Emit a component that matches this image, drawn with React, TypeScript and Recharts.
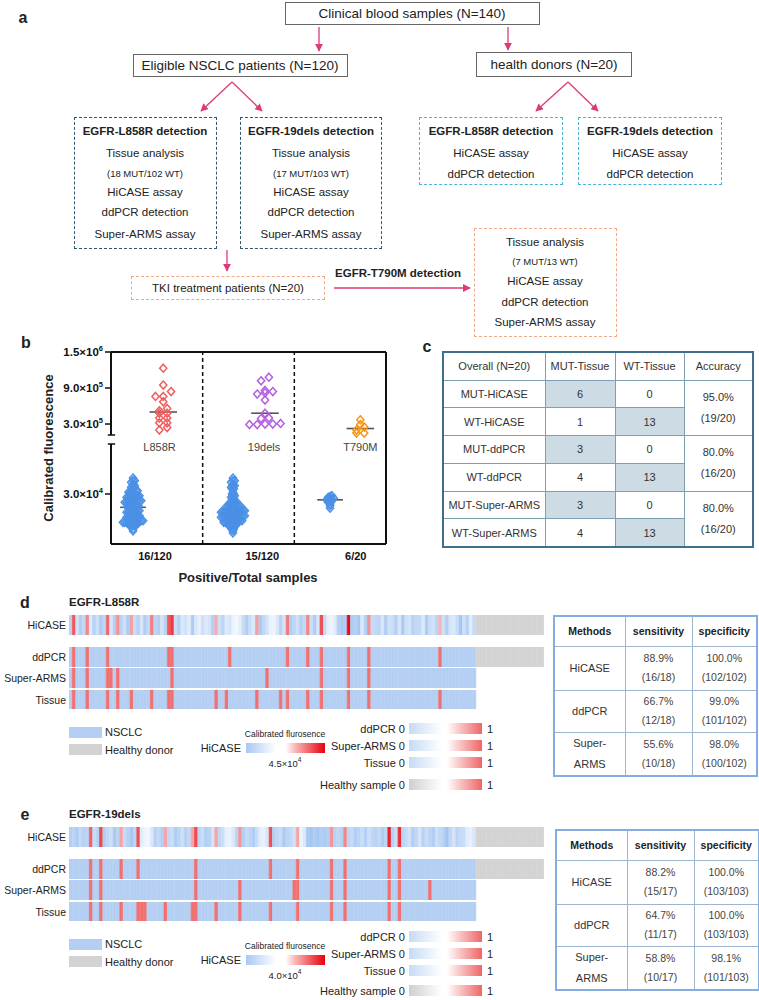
import React from 'react';
import {
  ScatterChart, Scatter, XAxis, YAxis, ReferenceLine, ReferenceDot,
  BarChart, Bar, Cell,
} from 'recharts';

const FONT = '"Liberation Sans", Arial, Helvetica, sans-serif';

// HiCASE calibrated fluorescence per NSCLC sample (x10^3), heatmap order
const HICASE_L858R = [
  18, 760, 26, 13, 20, 480, 31, 15, 24, 12,
  19, 670, 28, 14, 400, 17, 25, 12, 320, 22,
  16, 29, 13, 21, 520, 18, 14, 27, 17, 760,
  950, 23, 15, 30, 26, 33, 12, 29, 35, 24,
  31, 27, 14, 240, 25, 18, 32, 28, 37, 39.6,
  34, 22, 13, 24, 30, 320, 11, 19, 26, 36,
  38, 30, 16, 27, 560, 13, 19, 25, 14, 20,
  480, 24, 12, 29, 840, 21, 35, 38, 32, 16,
  10, 13, 1230, 12, 15, 9, 31, 14, 400, 22,
  19, 18, 28, 13, 26, 23, 15, 29, 11, 25,
  27, 16, 19, 20, 31, 12, 23, 26, 17, 200,
  24, 14, 28, 30, 22, 7.8, 25, 16, 33, 21,
];
const HICASE_19DELS = [
  14, 17, 12, 20, 15, 18, 700, 22, 16, 860,
  13, 19, 24, 11, 17, 310, 21, 15, 9, 18,
  800, 33, 38, 39.6, 30, 16, 20, 14, 300, 19,
  23, 12, 17, 25, 15, 20, 300, 840, 18, 22,
  13, 16, 27, 290, 19, 24, 35, 37, 31, 17,
  390, 14, 21, 18, 12, 23, 34, 36, 29, 820,
  15, 19, 22, 11, 17, 20, 26, 290, 38, 30,
  10, 8, 12, 9, 13, 11, 14, 400, 16, 19,
  15, 480, 18, 21, 13, 17, 22, 14, 25, 19,
  16, 20, 12, 18, 1080, 15, 23, 1020, 17, 21,
  26, 14, 19, 28, 16, 22, 18, 13, 24, 20,
  15, 6.6, 19, 27, 17, 21, 23, 33, 35, 29,
];
const HICASE_T790M_WT = [29, 28.5, 28, 27.5, 27, 27, 26.5, 26.5, 26, 25.5, 25, 24, 23, 21.5];
const HICASE_T790M_MUT = [370, 290, 250, 200, 150, 150];

const GROUPS = ['L858R', '19dels', 'T790M'];
const POS_TOTAL = ['16/120', '15/120', '6/20'];

// positive sample indices (binary rows)
const DDPCR_L858R = [1, 5, 11, 29, 30, 47, 64, 70, 74, 82, 88, 109];
const SARMS_L858R = [1, 5, 11, 12, 14, 30, 58, 74, 82, 88];
const TISSUE_L858R = [1, 5, 11, 14, 18, 24, 29, 30, 43, 46, 55, 62, 64, 70, 74, 82, 88, 109];
const DDPCR_19DELS = [6, 9, 15, 20, 37, 59, 67, 77, 81, 94, 97];
const SARMS_19DELS = [6, 9, 37, 50, 66, 67, 77, 81, 94, 97, 106];
const TISSUE_19DELS = [6, 9, 15, 20, 21, 22, 28, 36, 37, 43, 50, 59, 67, 77, 81, 94, 97];
const N_NSCLC = 120;
const N_HEALTHY = 20;

// panel c
const C_METHODS = ['HiCASE', 'ddPCR', 'Super-ARMS'];
const C_MUT_TISSUE = [[6, 1], [3, 4], [3, 4]];
const C_WT_TISSUE = [[0, 13], [0, 13], [0, 13]];
const C_ACCURACY = ['95.0%', '80.0%', '80.0%'];
const C_ACC_FRAC = ['(19/20)', '(16/20)', '(16/20)'];

// panels d / e tables
const METHODS = ['HiCASE', 'ddPCR', 'Super-ARMS'];
const SENS_L858R = [['88.9%', '(16/18)'], ['66.7%', '(12/18)'], ['55.6%', '(10/18)']];
const SPEC_L858R = [['100.0%', '(102/102)'], ['99.0%', '(101/102)'], ['98.0%', '(100/102)']];
const SENS_19DELS = [['88.2%', '(15/17)'], ['64.7%', '(11/17)'], ['58.8%', '(10/17)']];
const SPEC_19DELS = [['100.0%', '(103/103)'], ['100.0%', '(103/103)'], ['98.1%', '(101/103)']];

// ---------- broken y scale for panel b ----------
const LOW_MAX = 60, LOW_H = 100, GAP = 9, UP_MIN = 117, UP_MAX = 1500, UP_H = 83;
const ty = (v: number) =>
  v <= LOW_MAX ? (v / LOW_MAX) * LOW_H : LOW_H + GAP + ((v - UP_MIN) / (UP_MAX - UP_MIN)) * UP_H;
const Y_TOP = ty(UP_MAX);
const Y_TICKS = [30, 60, 300, 900, 1500];
const Y_TICK_TEXT = [['3.0', '4'], ['6.0', '4'], ['3.0', '5'], ['9.0', '5'], ['1.5', '6']];
const THRESHOLD = 60;

const NEG_X = [0.24, 1.33, 2.39];
const POS_X = [0.57, 1.68, 2.72];
const TICK_X = [0.48, 1.65, 2.67];
const NAME_X = [0.53, 1.67, 2.72];

const BLUE_PT = '#4a90e6';
const POS_COLORS = ['#ef5e5e', '#b45fe0', '#f5961c'];

function swarm(values: number[], cx: number, step: number, bin: number) {
  const bins = new Map<number, number[]>();
  [...values].sort((a, b) => a - b).forEach((v) => {
    const k = Math.round(ty(v) / bin);
    if (!bins.has(k)) bins.set(k, []);
    bins.get(k)!.push(v);
  });
  const pts: { x: number; y: number }[] = [];
  bins.forEach((vs) =>
    vs.forEach((v, i) => pts.push({ x: cx + (i - (vs.length - 1) / 2) * step, y: ty(v) }))
  );
  return pts;
}

const median = (vs: number[]) => {
  const s = [...vs].sort((a, b) => a - b);
  const m = Math.floor(s.length / 2);
  return s.length % 2 ? s[m] : (s[m - 1] + s[m]) / 2;
};

const diamond = (color: string) => (p: any) => (
  <path
    d={`M${p.cx},${p.cy - 4}L${p.cx + 3.6},${p.cy}L${p.cx},${p.cy + 4}L${p.cx - 3.6},${p.cy}Z`}
    fill="none"
    stroke={color}
    strokeWidth={1.5}
  />
);

const YTick = (p: any) => {
  const i = Y_TICKS.findIndex((v) => Math.abs(ty(v) - p.payload.value) < 1e-6);
  const [m, e] = Y_TICK_TEXT[i] ?? ['', ''];
  return (
    <text x={p.x} y={p.y} dy={4} textAnchor="end" fontFamily={FONT} fontSize={11.5} fontWeight={700} fill="#111">
      {m}×10<tspan dy={-5} fontSize={7.5}>{e}</tspan>
    </text>
  );
};

// ---------- heatmap colours ----------
const mix = (a: number[], b: number[], t: number) =>
  `rgb(${a.map((c, i) => Math.round(c + (b[i] - c) * t)).join(',')})`;
const heatColor = (v: number) => {
  if (v < 45) return mix([160, 195, 240], [255, 255, 255], Math.min(1, Math.max(0, (v - 6) / 39)));
  return mix([250, 205, 205], [230, 10, 20], Math.min(1, (v - 45) / 1200));
};
const NSCLC_BLUE = '#b4cff3';
const HIT_RED = '#f07171';
const HEALTHY_GRAY = '#d3d3d3';

const hicaseColors = (vals: number[]) => [
  ...vals.map(heatColor),
  ...Array.from({ length: N_HEALTHY }, () => HEALTHY_GRAY),
];
const binaryColors = (pos: number[], healthy: boolean) =>
  Array.from({ length: N_NSCLC + N_HEALTHY }, (_, i) =>
    i >= N_NSCLC ? (healthy ? HEALTHY_GRAY : 'transparent') : pos.includes(i) ? HIT_RED : NSCLC_BLUE
  );

// ---------- small helpers ----------
const Txt = ({ x, y, s = 11.5, b = false, a = 'middle', c = '#222', children, style }: any) => {
  const tx = a === 'middle' ? '-50%' : a === 'end' ? '-100%' : '0';
  return (
    <div
      style={{
        position: 'absolute', left: x, top: y, transform: `translate(${tx},-50%)`,
        fontSize: s, fontWeight: b ? 700 : 400, color: c, whiteSpace: 'nowrap', lineHeight: 1.15, ...style,
      }}
    >
      {children}
    </div>
  );
};

const FBox = ({ l, t, w, h, color, dashed }: any) => (
  <div
    style={{
      position: 'absolute', left: l, top: t, width: w, height: h, boxSizing: 'border-box',
      border: `1.5px ${dashed ? 'dashed' : 'solid'} ${color}`,
    }}
  />
);

const ARROW = '#dc3a78';
const DARK_DASH = '#2d5b6d';
const LIGHT_DASH = '#4cb2d8';
const PEACH_DASH = '#f1a987';

const arrows = [
  [319, 27, 319, 51], [508, 27, 508, 50],
  [232, 82, 201, 111], [232, 82, 262, 111], [568, 82, 536, 111], [568, 82, 598, 111],
  [227, 250, 227, 271], [334, 288, 470, 288],
];

function PanelA() {
  return (
    <>
      <Txt x={23} y={18} s={16} b>a</Txt>
      <FBox l={285} t={2} w={255} h={23} color="#666" />
      <Txt x={412} y={13.5} s={13.5}>Clinical blood samples (N=140)</Txt>
      <FBox l={133} t={54} w={215} h={23} color="#666" />
      <Txt x={240} y={66} s={13.5}>Eligible NSCLC patients (N=120)</Txt>
      <FBox l={476} t={52} w={156} h={25} color="#666" />
      <Txt x={554} y={65} s={13.5}>health donors (N=20)</Txt>

      <FBox l={74} t={117} w={143} h={132} color={DARK_DASH} dashed />
      <Txt x={145} y={132} b>EGFR-L858R detection</Txt>
      <Txt x={145} y={154}>Tissue analysis</Txt>
      <Txt x={145} y={174} s={9.5}>(18 MUT/102 WT)</Txt>
      <Txt x={145} y={193}>HiCASE assay</Txt>
      <Txt x={145} y={213}>ddPCR detection</Txt>
      <Txt x={145} y={235}>Super-ARMS assay</Txt>

      <FBox l={240} t={117} w={142} h={132} color={DARK_DASH} dashed />
      <Txt x={311} y={132} b>EGFR-19dels detection</Txt>
      <Txt x={311} y={154}>Tissue analysis</Txt>
      <Txt x={311} y={174} s={9.5}>(17 MUT/103 WT)</Txt>
      <Txt x={311} y={193}>HiCASE assay</Txt>
      <Txt x={311} y={213}>ddPCR detection</Txt>
      <Txt x={311} y={235}>Super-ARMS assay</Txt>

      <FBox l={419} t={117} w={144} h={68} color={LIGHT_DASH} dashed />
      <Txt x={491} y={132} b>EGFR-L858R detection</Txt>
      <Txt x={491} y={154}>HiCASE assay</Txt>
      <Txt x={491} y={175}>ddPCR detection</Txt>

      <FBox l={578} t={117} w={144} h={68} color={LIGHT_DASH} dashed />
      <Txt x={650} y={132} b>EGFR-19dels detection</Txt>
      <Txt x={650} y={154}>HiCASE assay</Txt>
      <Txt x={650} y={175}>ddPCR detection</Txt>

      <FBox l={131} t={276} w={194} h={24} color={PEACH_DASH} dashed />
      <Txt x={228} y={289}>TKI treatment patients (N=20)</Txt>
      <Txt x={398} y={274} b>EGFR-T790M detection</Txt>

      <FBox l={474} t={228} w={143} h={109} color={PEACH_DASH} dashed />
      <Txt x={545} y={243}>Tissue analysis</Txt>
      <Txt x={545} y={262} s={9.5}>(7 MUT/13 WT)</Txt>
      <Txt x={545} y={282}>HiCASE assay</Txt>
      <Txt x={545} y={303}>ddPCR detection</Txt>
      <Txt x={545} y={323}>Super-ARMS assay</Txt>

      <svg width={759} height={340} style={{ position: 'absolute', left: 0, top: 0 }}>
        <defs>
          <marker id="ah" viewBox="0 0 10 10" refX="9" refY="5" markerWidth="6" markerHeight="6" orient="auto">
            <path d="M0,0 L10,5 L0,10 z" fill={ARROW} />
          </marker>
        </defs>
        {arrows.map(([x1, y1, x2, y2], i) => (
          <line key={i} x1={x1} y1={y1} x2={x2} y2={y2} stroke={ARROW} strokeWidth={1.3} markerEnd="url(#ah)" />
        ))}
      </svg>
    </>
  );
}

function PanelB() {
  const sets = [
    { neg: HICASE_L858R.filter((v) => v < THRESHOLD), pos: HICASE_L858R.filter((v) => v >= THRESHOLD) },
    { neg: HICASE_19DELS.filter((v) => v < THRESHOLD), pos: HICASE_19DELS.filter((v) => v >= THRESHOLD) },
    { neg: HICASE_T790M_WT, pos: HICASE_T790M_MUT },
  ];
  const axis = { stroke: '#111', strokeWidth: 2 };
  return (
    <>
      <Txt x={26} y={343} s={16} b>b</Txt>
      <div style={{ position: 'absolute', left: 0, top: 330 }}>
        <ScatterChart width={400} height={270} margin={{ top: 22, right: 14, bottom: 26, left: 51 }}>
          <XAxis
            type="number" dataKey="x" domain={[0, 3]} ticks={TICK_X} height={30}
            axisLine={false} tickLine={false}
            tickFormatter={(v: number) => POS_TOTAL[TICK_X.indexOf(v)] ?? ''}
            tick={{ fontSize: 11, fontWeight: 700, fill: '#111', fontFamily: FONT }}
          />
          <YAxis
            type="number" dataKey="y" domain={[0, Y_TOP]} ticks={Y_TICKS.map(ty)} width={60}
            axisLine={false} tickLine={{ stroke: '#111', strokeWidth: 1.5 }} tick={YTick}
          />
          <ReferenceLine y={Y_TOP} {...axis} />
          <ReferenceLine y={0} {...axis} />
          <ReferenceLine x={3} {...axis} />
          <ReferenceLine segment={[{ x: 0, y: 0 }, { x: 0, y: LOW_H }]} {...axis} ifOverflow="visible" />
          <ReferenceLine segment={[{ x: 0, y: LOW_H + GAP }, { x: 0, y: Y_TOP }]} {...axis} ifOverflow="visible" />
          <ReferenceLine segment={[{ x: -0.035, y: LOW_H }, { x: 0.045, y: LOW_H }]} stroke="#111" strokeWidth={1.5} ifOverflow="visible" />
          <ReferenceLine segment={[{ x: -0.035, y: LOW_H + GAP }, { x: 0.045, y: LOW_H + GAP }]} stroke="#111" strokeWidth={1.5} ifOverflow="visible" />
          <ReferenceLine x={1} stroke="#111" strokeWidth={1.5} strokeDasharray="4 3" />
          <ReferenceLine x={2} stroke="#111" strokeWidth={1.5} strokeDasharray="4 3" />
          {sets.map((s, g) => (
            <Scatter key={`n${g}`} data={swarm(s.neg, NEG_X[g], 0.02, 2.5)} shape={diamond(BLUE_PT)} isAnimationActive={false} />
          ))}
          {sets.map((s, g) => (
            <Scatter key={`p${g}`} data={swarm(s.pos, POS_X[g], 0.085, 5)} shape={diamond(POS_COLORS[g])} isAnimationActive={false} />
          ))}
          {sets.map((s, g) => (
            <ReferenceLine key={`mn${g}`} segment={[{ x: NEG_X[g] - 0.14, y: ty(median(s.neg)) }, { x: NEG_X[g] + 0.14, y: ty(median(s.neg)) }]} stroke="#555" strokeWidth={1.6} />
          ))}
          {sets.map((s, g) => (
            <ReferenceLine key={`mp${g}`} segment={[{ x: POS_X[g] - 0.15, y: ty(median(s.pos)) }, { x: POS_X[g] + 0.15, y: ty(median(s.pos)) }]} stroke="#555" strokeWidth={1.6} />
          ))}
          {GROUPS.map((name, g) => (
            <ReferenceDot
              key={name} x={NAME_X[g]} y={LOW_H - 3} r={1} fill="none" stroke="none"
              label={{ value: name, position: 'center', fontSize: 11, fill: '#444', fontFamily: FONT }}
            />
          ))}
        </ScatterChart>
      </div>
      <Txt x={49} y={448} s={13} b style={{ transform: 'translate(-50%,-50%) rotate(-90deg)' }}>
        Calibrated fluorescence
      </Txt>
      <Txt x={248} y={578} s={13} b>Positive/Total samples</Txt>
    </>
  );
}

function PanelC() {
  const inner = '1px solid #7d9fb4';
  const cell = (extra: any = {}) => ({
    border: inner, textAlign: 'center' as const, padding: 0, fontSize: 11, color: '#333', ...extra,
  });
  const shade = '#cddbe4';
  return (
    <>
      <Txt x={427} y={347} s={16} b>c</Txt>
      <table
        style={{
          position: 'absolute', left: 442, top: 351, width: 310, height: 195, borderCollapse: 'collapse',
          border: '2px solid #3f6f8c', tableLayout: 'fixed', fontFamily: FONT,
        }}
      >
        <colgroup>
          <col style={{ width: 102 }} /><col style={{ width: 70 }} /><col style={{ width: 69 }} /><col style={{ width: 69 }} />
        </colgroup>
        <tbody>
          <tr style={{ height: 28 }}>
            <td style={cell()}>Overall (N=20)</td>
            <td style={cell()}>MUT-Tissue</td>
            <td style={cell()}>WT-Tissue</td>
            <td style={cell()}>Accuracy</td>
          </tr>
          {C_METHODS.map((m, i) =>
            [0, 1].map((r) => (
              <tr key={`${m}${r}`} style={{ height: 27.8 }}>
                <td style={cell()}>{(r === 0 ? 'MUT-' : 'WT-') + m}</td>
                <td style={cell({ background: r === 0 ? shade : 'white' })}>{C_MUT_TISSUE[i][r]}</td>
                <td style={cell({ background: r === 1 ? shade : 'white' })}>{C_WT_TISSUE[i][r]}</td>
                {r === 0 && (
                  <td rowSpan={2} style={cell({ lineHeight: '21px' })}>
                    {C_ACCURACY[i]}<br />{C_ACC_FRAC[i]}
                  </td>
                )}
              </tr>
            ))
          )}
        </tbody>
      </table>
    </>
  );
}

function HeatRow({ colors, top, height }: { colors: string[]; top: number; height: number }) {
  const data = colors.map((c, i) => ({ i, v: 1, c }));
  return (
    <div style={{ position: 'absolute', left: 69, top }}>
      <BarChart width={475} height={height} data={data} margin={{ top: 0, right: 0, bottom: 0, left: 0 }} barCategoryGap={0} barGap={0}>
        <XAxis dataKey="i" hide />
        <YAxis hide domain={[0, 1]} />
        <Bar dataKey="v" isAnimationActive={false}>
          {data.map((d) => (
            <Cell key={d.i} fill={d.c} stroke={d.c === 'transparent' ? 'none' : d.c} strokeWidth={0.8} />
          ))}
        </Bar>
      </BarChart>
    </div>
  );
}

function GradBar({ l, t, w, h, from }: any) {
  return (
    <div
      style={{
        position: 'absolute', left: l, top: t, width: w, height: h,
        background: `linear-gradient(to right, ${from} 0%, #ffffff 45%, #ffffff 52%, #f8c4c4 70%, #ef6666 100%)`,
      }}
    />
  );
}

function HeatPanel({ letter, title, top, hicase, ddpcr, sarms, tissue, mid, legY }: any) {
  const rows = [
    { name: 'HiCASE', colors: hicaseColors(hicase), t: top, h: 20 },
    { name: 'ddPCR', colors: binaryColors(ddpcr, true), t: top + 32, h: 20 },
    { name: 'Super-ARMS', colors: binaryColors(sarms, false), t: top + 53, h: 20 },
    { name: 'Tissue', colors: binaryColors(tissue, false), t: top + 75, h: 19 },
  ];
  const legNames = ['ddPCR', 'Super-ARMS', 'Tissue', 'Healthy sample'];
  return (
    <>
      <Txt x={25} y={top - 12} s={16} b>{letter}</Txt>
      <Txt x={69} y={top - 12} s={11.5} b a="start">{title}</Txt>
      {rows.map((r) => (
        <React.Fragment key={r.name}>
          <Txt x={66} y={r.t + r.h / 2} s={10.5} a="end">{r.name}</Txt>
          <HeatRow colors={r.colors} top={r.t} height={r.h} />
        </React.Fragment>
      ))}
      <div style={{ position: 'absolute', left: 69, top: top + 112, width: 33, height: 11, background: NSCLC_BLUE }} />
      <Txt x={105} y={top + 117} s={11} a="start">NSCLC</Txt>
      <div style={{ position: 'absolute', left: 69, top: top + 129, width: 33, height: 11, background: HEALTHY_GRAY }} />
      <Txt x={105} y={top + 135} s={11} a="start">Healthy donor</Txt>
      <Txt x={285} y={top + 120} s={8.5}>Calibrated flurosence</Txt>
      <Txt x={241} y={top + 133} s={11} a="end">HiCASE</Txt>
      <div
        style={{
          position: 'absolute', left: 246, top: top + 128, width: 79, height: 10,
          background: 'linear-gradient(to right, #a8c8f2 0%, #ffffff 38%, #ffffff 50%, #fbb8b8 62%, #e8000b 100%)',
        }}
      />
      <Txt x={285} y={top + 148} s={9.5}>{mid}×10<sup style={{ fontSize: 6.5 }}>4</sup></Txt>
      {legNames.map((name, i) => (
        <React.Fragment key={name}>
          <Txt x={405} y={top + legY[i]} s={11} a="end">{name} 0</Txt>
          <GradBar l={409} t={top + legY[i] - 6} w={73} h={11} from={i === 3 ? '#cfcfcf' : '#c6dbf6'} />
          <Txt x={487} y={top + legY[i]} s={11} a="start">1</Txt>
        </React.Fragment>
      ))}
    </>
  );
}

function MethodTable({ left, top, sens, spec }: any) {
  const inner = '1px solid #9db6cf';
  const cell = (extra: any = {}) => ({
    border: inner, textAlign: 'center' as const, padding: 0, fontSize: 10.5, color: '#444', lineHeight: '19px', ...extra,
  });
  const heights = [44, 42, 43];
  return (
    <table
      style={{
        position: 'absolute', left, top, width: 203, height: 159, borderCollapse: 'collapse',
        border: '2px solid #86ade0', tableLayout: 'fixed', fontFamily: FONT,
      }}
    >
      <colgroup>
        <col style={{ width: 71 }} /><col style={{ width: 67 }} /><col style={{ width: 65 }} />
      </colgroup>
      <tbody>
        <tr style={{ height: 30 }}>
          <td style={cell({ fontWeight: 700, color: '#222' })}>Methods</td>
          <td style={cell({ fontWeight: 700, color: '#222' })}>sensitivity</td>
          <td style={cell({ fontWeight: 700, color: '#222' })}>specificity</td>
        </tr>
        {METHODS.map((m, i) => (
          <tr key={m} style={{ height: heights[i] }}>
            <td style={cell({ fontSize: 11, color: '#333', lineHeight: '21px' })}>
              {m.includes('-') ? (<>{m.split('-')[0]}-<br />{m.split('-')[1]}</>) : m}
            </td>
            <td style={cell()}>{sens[i][0]}<br />{sens[i][1]}</td>
            <td style={cell()}>{spec[i][0]}<br />{spec[i][1]}</td>
          </tr>
        ))}
      </tbody>
    </table>
  );
}

export default function App() {
  return (
    <div
      style={{
        position: 'absolute', left: 0, top: 0, width: 759, height: 1000, overflow: 'hidden',
        background: '#fff', fontFamily: FONT, color: '#222',
      }}
    >
      <PanelA />
      <PanelB />
      <PanelC />
      <HeatPanel
        letter="d" title="EGFR-L858R" top={615} hicase={HICASE_L858R}
        ddpcr={DDPCR_L858R} sarms={SARMS_L858R} tissue={TISSUE_L858R} mid="4.5"
        legY={[114, 131, 148, 170]}
      />
      <MethodTable left={553} top={615} sens={SENS_L858R} spec={SPEC_L858R} />
      <HeatPanel
        letter="e" title="EGFR-19dels" top={827} hicase={HICASE_19DELS}
        ddpcr={DDPCR_19DELS} sarms={SARMS_19DELS} tissue={TISSUE_19DELS} mid="4.0"
        legY={[110, 127, 144, 164]}
      />
      <MethodTable left={555} top={829} sens={SENS_19DELS} spec={SPEC_19DELS} />
    </div>
  );
}
